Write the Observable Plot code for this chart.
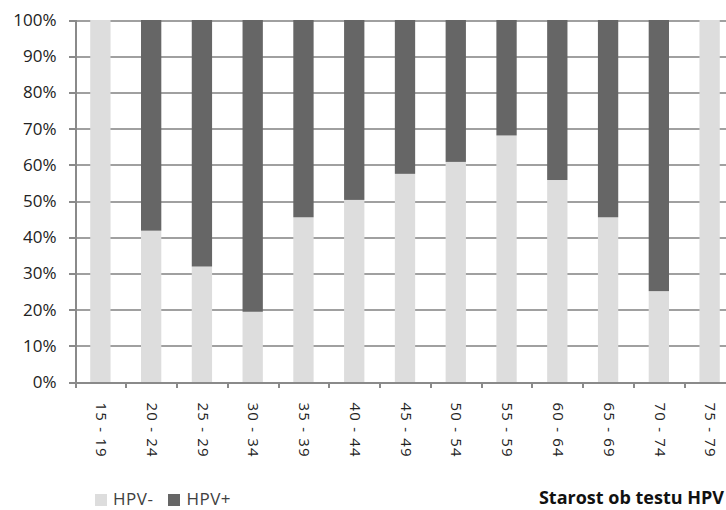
<!DOCTYPE html>
<html><head><meta charset="utf-8">
<script src="https://cdn.jsdelivr.net/npm/d3@7"></script>
<script src="https://cdn.jsdelivr.net/npm/@observablehq/plot@0.6"></script>
<style>
html,body{margin:0;padding:0;background:#fff;overflow:hidden;width:726px;height:510px;}
#wrap{position:relative;width:726px;height:510px;overflow:hidden;font-family:"Open Sans","DejaVu Sans",sans-serif;}
#chart{position:absolute;left:0;top:0;}
#legend{position:absolute;left:95px;top:490px;font-size:17px;line-height:17px;color:#404040;display:flex;align-items:center;letter-spacing:0.5px;}
#legend span.sw{display:inline-block;width:12px;height:12px;margin-right:6px;margin-top:2px;}
#legend span.lab{margin-right:15px;}
#xtitle{position:absolute;right:2px;top:488px;font-size:18px;line-height:18px;font-weight:bold;color:#111;}
</style></head>
<body><div id="wrap"><div id="chart"></div>
<div id="legend"></div><div id="xtitle">Starost ob testu HPV</div></div>
<script>
const categories = ["15 - 19","20 - 24","25 - 29","30 - 34","35 - 39","40 - 44","45 - 49","50 - 54","55 - 59","60 - 64","65 - 69","70 - 74","75 - 79"];
const hpvNeg = [1.000,0.418,0.319,0.194,0.455,0.503,0.575,0.608,0.681,0.558,0.455,0.251,1.000];
const hpvPos = hpvNeg.map(v => +(1 - v).toFixed(3));
const seriesNames = ["HPV-","HPV+"];
const seriesColors = ["#dddddd","#666666"];
const yTicks = [0,0.1,0.2,0.3,0.4,0.5,0.6,0.7,0.8,0.9,1];

const data = [];
categories.forEach((c,i) => {
  data.push({age:c, series:"HPV-", value:hpvNeg[i]});
  data.push({age:c, series:"HPV+", value:hpvPos[i]});
});

const W = 736, ML = 75, MR = 1;
const step = (W - ML - MR) / categories.length;

const chart = Plot.plot({
  width: W,
  height: 470,
  marginLeft: ML,
  marginRight: MR,
  marginTop: 20,
  marginBottom: 88,
  style: {fontFamily: "'Open Sans', sans-serif", background: "#fff", maxWidth: "none"},
  x: {domain: categories, paddingInner: 0.6, paddingOuter: 0.3, round: false, label: null},
  y: {domain: [0,1], label: null},
  color: {domain: seriesNames, range: seriesColors},
  marks: [
    Plot.ruleY(yTicks, {stroke: "#a0a0a0", strokeWidth: 2, shapeRendering: "crispEdges"}),
    Plot.barY(data, {x: "age", y: "value", fill: "series", order: seriesNames}),
    Plot.ruleY([0], {stroke: "#8a8a8a", strokeWidth: 2, shapeRendering: "crispEdges"}),
    Plot.frame({anchor: "left", stroke: "#8a8a8a", strokeWidth: 2, shapeRendering: "crispEdges"}),
    Plot.axisX({tickSize: 6, text: null, dx: -step / 2, stroke: "#8a8a8a", strokeWidth: 2, shapeRendering: "crispEdges"}),
    Plot.axisY(yTicks, {tickFormat: d3.format(".0%"), tickSize: 6, stroke: "#8a8a8a", strokeWidth: 2, shapeRendering: "crispEdges", fontSize: 17, fill: "#222", tickPadding: 13}),
    Plot.axisX({tickSize: 0, tickRotate: 90, fontSize: 15, fill: "#222", tickPadding: 20}),
  ]
});
chart.style.maxWidth = "none";
document.getElementById("chart").appendChild(chart);

d3.select(chart).selectAll('g[aria-label="x-axis tick label"] text').style("letter-spacing","1.2px");

const lg = document.getElementById("legend");
seriesNames.forEach((s,i) => {
  lg.insertAdjacentHTML("beforeend", `<span class="sw" style="background:${seriesColors[i]}"></span><span class="lab">${s}</span>`);
});
</script></body></html>
